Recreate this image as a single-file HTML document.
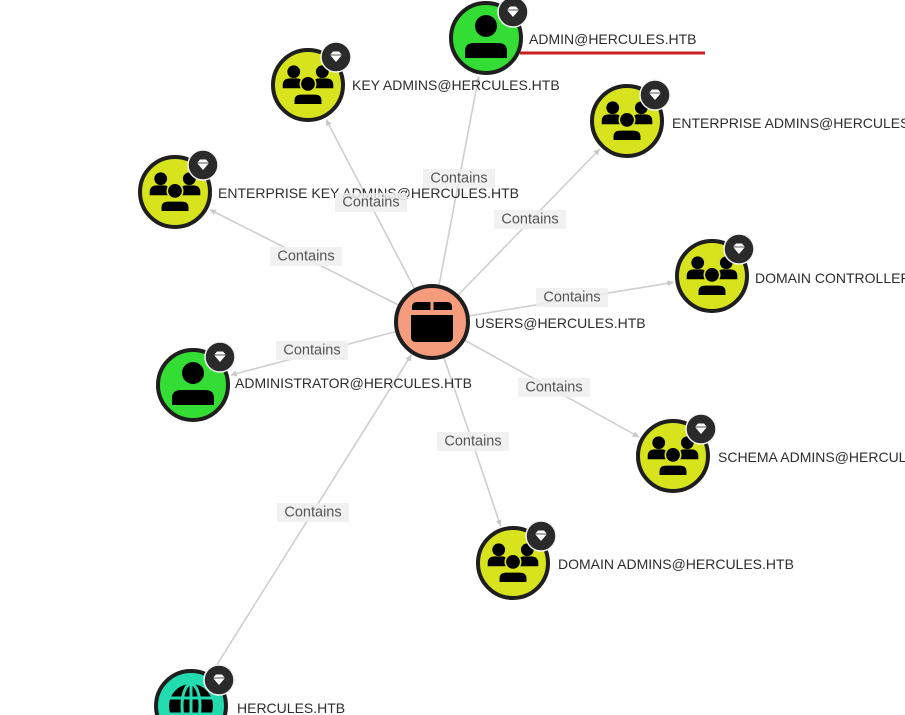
<!DOCTYPE html>
<html><head><meta charset="utf-8"><style>
html,body{margin:0;padding:0;background:#fff;}
svg{display:block;}
.nl{font-family:"Liberation Sans",Arial,sans-serif;font-size:14px;fill:#2d2d2d;dominant-baseline:central;}
.el{font-family:"Liberation Sans",Arial,sans-serif;font-size:14.5px;fill:#555;dominant-baseline:central;text-anchor:middle;}
.eb{fill:#eeeeee;fill-opacity:0.85;}
.edge{stroke:#cfcfcf;stroke-width:1.6;fill:none;}
.ring{stroke:#1e1e1e;stroke-width:4;}
</style></head><body>
<svg width="905" height="715" viewBox="0 0 905 715" xmlns="http://www.w3.org/2000/svg">
<defs>
<marker id="ar" viewBox="0 0 10 10" refX="10" refY="5" markerWidth="6" markerHeight="6" markerUnits="userSpaceOnUse" orient="auto">
<path d="M0,0 L10,5 L0,10 z" fill="#c8c8c8"/>
</marker>
<g id="grp">
<g transform="scale(1.1)">
<circle cx="-13" cy="-12" r="5.8" fill="#000"/>
<circle cx="13" cy="-12" r="5.8" fill="#000"/>
<path d="M-23,3 L-23,0 Q-23,-6 -16,-6 L-10,-6 Q-6,-6 -5,-2 L-5,3 z" fill="#000"/>
<path d="M23,3 L23,0 Q23,-6 16,-6 L10,-6 Q6,-6 5,-2 L5,3 z" fill="#000"/>
<circle cx="0" cy="-1" r="7" fill="#000" stroke="currentColor" stroke-width="1.5"/>
<path d="M-13,18 L-13,14 Q-13,8 -6,8 L6,8 Q13,8 13,14 L13,18 z" fill="#000" stroke="currentColor" stroke-width="1.5"/>
</g>
</g>
<g id="usr">
<circle cx="0" cy="-12" r="11" fill="#000"/>
<path d="M-21,20 L-21,13 Q-21,5 -12,5 L12,5 Q21,5 21,13 L21,20 z" fill="#000"/>
</g>
<g id="badge">
<circle r="15" fill="#2a2a2a" stroke="#f4f4f4" stroke-width="1.5"/>
<path d="M-6,-2 L-3,-5.5 L3,-5.5 L6,-2 L0,5 z" fill="#fff"/>
<path d="M-6,-2 L6,-2" stroke="#2a2a2a" stroke-width="0.8"/>
</g>
</defs>

<!-- edges -->
<line class="edge" x1="432" y1="322" x2="478.7" y2="76.3" marker-end="url(#ar)"/>
<line class="edge" x1="432" y1="322" x2="326.1" y2="119.6" marker-end="url(#ar)"/>
<line class="edge" x1="432" y1="322" x2="599.8" y2="149.0" marker-end="url(#ar)"/>
<line class="edge" x1="432" y1="322" x2="209.8" y2="209.6" marker-end="url(#ar)"/>
<line class="edge" x1="432" y1="322" x2="673.5" y2="282.3" marker-end="url(#ar)"/>
<line class="edge" x1="432" y1="322" x2="230.7" y2="375.1" marker-end="url(#ar)"/>
<line class="edge" x1="432" y1="322" x2="638.9" y2="437.0" marker-end="url(#ar)"/>
<line class="edge" x1="432" y1="322" x2="500.6" y2="526.0" marker-end="url(#ar)"/>
<line class="edge" x1="191" y1="706" x2="411.3" y2="355.0" marker-end="url(#ar)"/>

<!-- nodes -->
<circle class="ring" cx="486" cy="38" r="35" fill="#33dd33"/>
<use href="#usr" x="486" y="38"/>
<use href="#badge" x="513" y="12"/>

<circle class="ring" cx="308" cy="85" r="35" fill="#d7e31c"/>
<use href="#grp" x="308" y="85" color="#d7e31c"/>
<use href="#badge" x="336" y="57"/>

<circle class="ring" cx="627" cy="121" r="35" fill="#d7e31c"/>
<use href="#grp" x="627" y="121" color="#d7e31c"/>
<use href="#badge" x="655" y="95"/>

<circle class="ring" cx="175" cy="192" r="35" fill="#d7e31c"/>
<use href="#grp" x="175" y="192" color="#d7e31c"/>
<use href="#badge" x="203" y="165"/>

<circle class="ring" cx="712" cy="276" r="35" fill="#d7e31c"/>
<use href="#grp" x="712" y="276" color="#d7e31c"/>
<use href="#badge" x="739" y="249"/>

<circle class="ring" cx="432" cy="322" r="36" fill="#f49c7c"/>
<g transform="translate(432,322)">
<path d="M-20,-12 L-20,-15 Q-20,-20 -15,-20 L-1.5,-20 L-1.5,-12 z" fill="#000"/>
<path d="M20,-12 L20,-15 Q20,-20 15,-20 L1.5,-20 L1.5,-12 z" fill="#000"/>
<path d="M-21,-7 L21,-7 L21,15 Q21,20 16,20 L-16,20 Q-21,20 -21,15 z" fill="#000"/>
</g>

<circle class="ring" cx="193" cy="385" r="35" fill="#33dd33"/>
<use href="#usr" x="193" y="385"/>
<use href="#badge" x="220" y="357"/>

<circle class="ring" cx="673" cy="456" r="35" fill="#d7e31c"/>
<use href="#grp" x="673" y="456" color="#d7e31c"/>
<use href="#badge" x="701" y="429"/>

<circle class="ring" cx="513" cy="563" r="35" fill="#d7e31c"/>
<use href="#grp" x="513" y="563" color="#d7e31c"/>
<use href="#badge" x="541" y="536"/>

<circle class="ring" cx="191" cy="706" r="35" fill="#22dcb0"/>
<g transform="translate(191,706)">
<circle r="22" fill="#000"/>
<ellipse rx="9" ry="22" fill="none" stroke="#22dcb0" stroke-width="3"/>
<line x1="0" y1="-22" x2="0" y2="22" stroke="#22dcb0" stroke-width="3"/>
<line x1="-22" y1="-8" x2="22" y2="-8" stroke="#22dcb0" stroke-width="3"/>
<line x1="-22" y1="8" x2="22" y2="8" stroke="#22dcb0" stroke-width="3"/>
</g>
<use href="#badge" x="219" y="680"/>

<!-- node labels -->
<text class="nl" x="529" y="39">ADMIN@HERCULES.HTB</text>
<line x1="520" y1="53" x2="705" y2="53" stroke="#cc1f1f" stroke-width="3"/>
<text class="nl" x="352" y="85">KEY ADMINS@HERCULES.HTB</text>
<text class="nl" x="672" y="123">ENTERPRISE ADMINS@HERCULES.HTB</text>
<text class="nl" x="218" y="193">ENTERPRISE KEY ADMINS@HERCULES.HTB</text>
<text class="nl" x="755" y="278">DOMAIN CONTROLLERS@HERCULES.HTB</text>
<text class="nl" x="475" y="323">USERS@HERCULES.HTB</text>
<text class="nl" x="235" y="383">ADMINISTRATOR@HERCULES.HTB</text>
<text class="nl" x="718" y="457">SCHEMA ADMINS@HERCULES.HTB</text>
<text class="nl" x="558" y="564">DOMAIN ADMINS@HERCULES.HTB</text>
<text class="nl" x="237" y="708">HERCULES.HTB</text>

<!-- edge labels -->
<g>
<rect class="eb" x="423" y="169" width="72" height="19"/><text class="el" x="459" y="178.5">Contains</text>
<rect class="eb" x="335" y="193" width="72" height="19"/><text class="el" x="371" y="202.5">Contains</text>
<rect class="eb" x="494" y="210" width="72" height="19"/><text class="el" x="530" y="219.5">Contains</text>
<rect class="eb" x="270" y="247" width="72" height="19"/><text class="el" x="306" y="256.5">Contains</text>
<rect class="eb" x="536" y="288" width="72" height="19"/><text class="el" x="572" y="297.5">Contains</text>
<rect class="eb" x="276" y="341" width="72" height="19"/><text class="el" x="312" y="350.5">Contains</text>
<rect class="eb" x="518" y="378" width="72" height="19"/><text class="el" x="554" y="387.5">Contains</text>
<rect class="eb" x="437" y="432" width="72" height="19"/><text class="el" x="473" y="441.5">Contains</text>
<rect class="eb" x="277" y="503" width="72" height="19"/><text class="el" x="313" y="512.5">Contains</text>
</g>
</svg>
</body></html>
